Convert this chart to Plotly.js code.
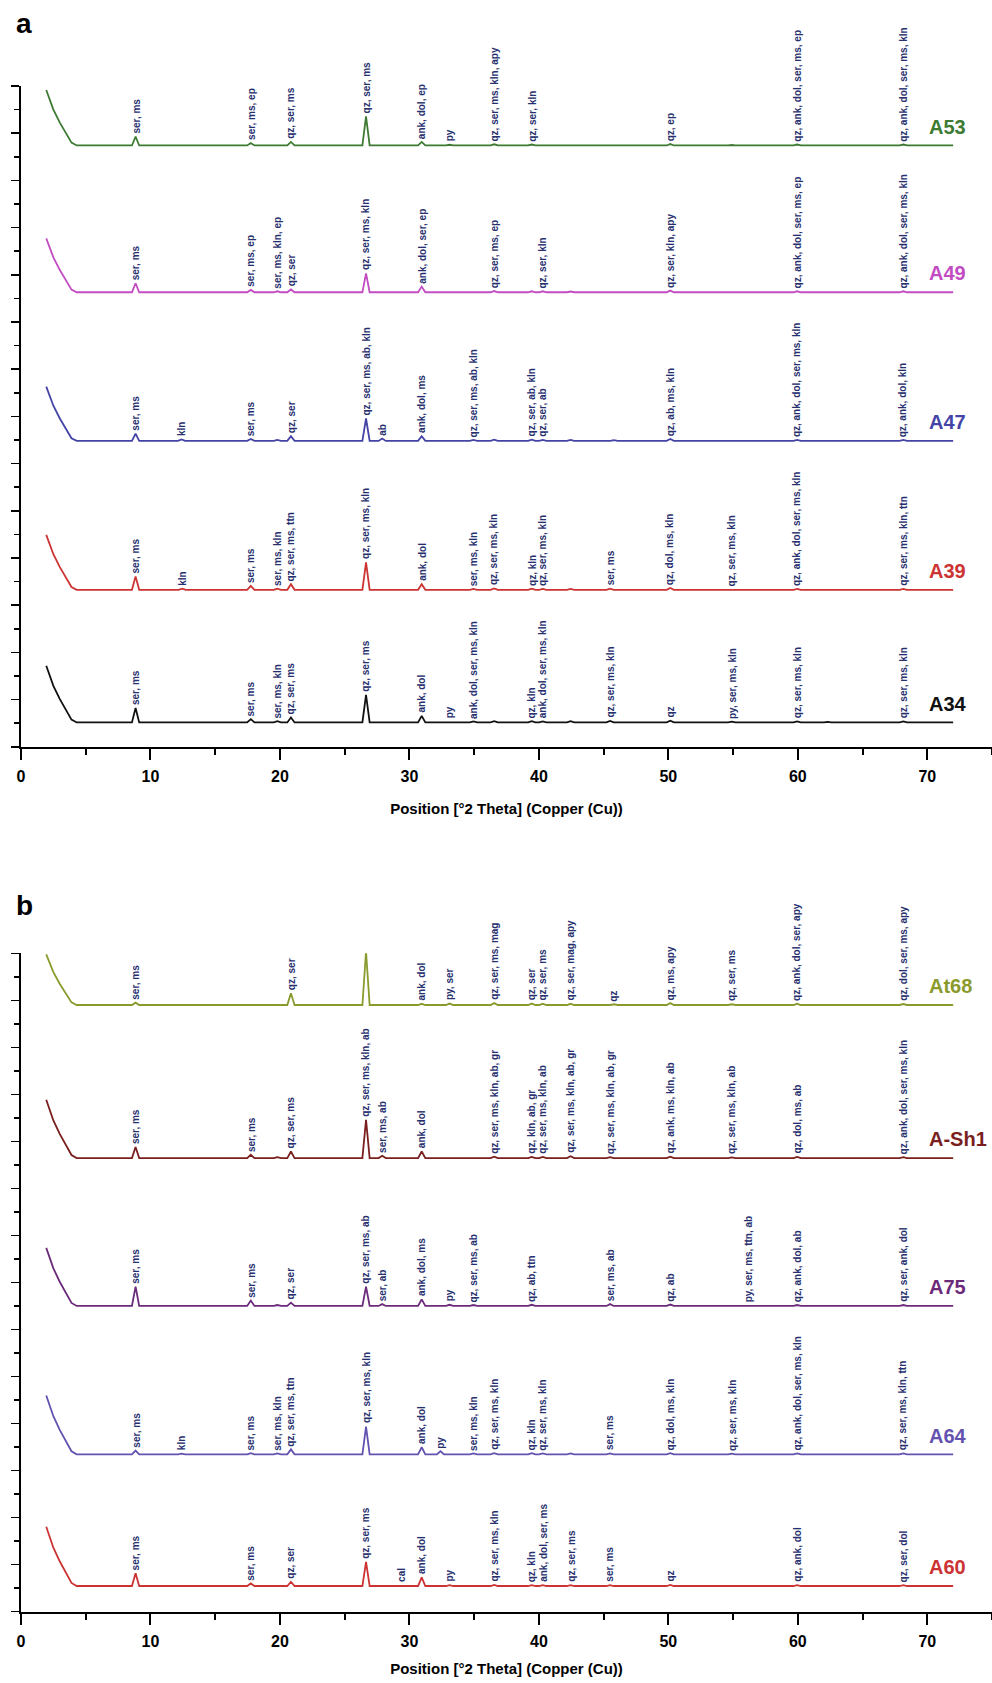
<!DOCTYPE html>
<html>
<head>
<meta charset="utf-8">
<script src="https://cdn.plot.ly/plotly-3.0.1.min.js"></script>
<style>
html,body{margin:0;padding:0;background:#ffffff;}
#chart{width:992px;height:1683px;}
</style>
</head>
<body>
<div id="chart"></div>
<script>
// ---------------- DATA ----------------
// x in degrees 2-theta, intensities in stacked plot units above each sample's baseline
const xTickValues = [0, 10, 20, 30, 40, 50, 60, 70];
const xTitle = "Position [°2 Theta] (Copper (Cu))";
const lowAngleX = [1.95, 2.5, 3.0, 3.5, 3.9, 4.3];
const scanEnd = 72;

// Panel a
const panelA_samples = ["A53", "A49", "A47", "A39", "A34"];
const panelA_offsets = [25.48, 19.26, 12.96, 6.65, 1.03];
// Panel b
const panelB_samples = ["At68", "A-Sh1", "A75", "A64", "A60"];
const panelB_offsets = [25.8, 19.29, 13.0, 6.69, 1.09];

// A53
const A53_lowY = [2.35, 1.52, 0.97, 0.48, 0.12, 0];
const A53_peakX = [8.85, 17.75, 19.8, 20.85, 26.65, 30.95, 33.1, 36.55, 39.45, 40.3, 42.45, 45.8, 50.15, 54.9, 59.95, 68.15];
const A53_peakH = [0.38, 0.10, 0.03, 0.15, 1.23, 0.15, 0.03, 0.05, 0.04, 0.03, 0.03, 0.03, 0.06, 0.02, 0.04, 0.04];
const A53_labelX = [8.85, 17.75, 20.85, 26.65, 30.95, 33.1, 36.55, 39.45, 50.15, 59.95, 68.15];
const A53_labelText = ["ser, ms", "ser, ms, ep", "qz, ser, ms", "qz, ser, ms", "ank, dol, ep", "py", "qz, ser, ms, kln, apy", "qz, ser, kln", "qz, ep", "qz, ank, dol, ser, ms, ep", "qz, ank, dol, ser, ms, kln"];

// A49
const A49_lowY = [2.28, 1.48, 0.94, 0.46, 0.11, 0];
const A49_peakX = [8.85, 17.75, 19.8, 20.85, 26.65, 30.95, 36.55, 39.45, 40.3, 42.45, 45.8, 50.15, 59.95, 68.15];
const A49_peakH = [0.38, 0.10, 0.04, 0.12, 0.80, 0.24, 0.05, 0.04, 0.04, 0.03, 0.03, 0.07, 0.04, 0.04];
const A49_labelX = [8.85, 17.75, 19.8, 20.85, 26.65, 30.95, 36.55, 40.3, 50.15, 59.95, 68.15];
const A49_labelText = ["ser, ms", "ser, ms, ep", "ser, ms, kln, ep", "qz, ser", "qz, ser, ms, kln", "ank, dol, ser, ep", "qz, ser, ms, ep", "qz, ser, kln", "qz, ser, kln, apy", "qz, ank, dol, ser, ms, ep", "qz, ank, dol, ser, ms, kln"];

// A47
const A47_lowY = [2.30, 1.49, 0.95, 0.47, 0.11, 0];
const A47_peakX = [8.85, 12.4, 17.75, 19.8, 20.85, 26.65, 27.9, 30.95, 34.95, 36.55, 39.45, 40.3, 42.45, 45.8, 50.15, 59.95, 68.15];
const A47_peakH = [0.31, 0.06, 0.08, 0.04, 0.20, 0.95, 0.10, 0.20, 0.04, 0.05, 0.05, 0.04, 0.04, 0.03, 0.08, 0.04, 0.04];
const A47_labelX = [8.85, 12.4, 17.75, 20.85, 26.65, 27.9, 30.95, 34.95, 39.45, 40.3, 50.15, 59.95, 68.15];
const A47_labelText = ["ser, ms", "kln", "ser, ms", "qz, ser", "qz, ser, ms, ab, kln", "ab", "ank, dol, ms", "qz, ser, ms, ab, kln", "qz, ser, ab, kln", "qz, ser, ab", "qz, ab, ms, kln", "qz, ank, dol, ser, ms, kln", "qz, ank, dol, kln"];

// A39
const A39_lowY = [2.33, 1.51, 0.96, 0.47, 0.12, 0];
const A39_peakX = [8.85, 12.45, 17.75, 19.8, 20.85, 26.65, 30.95, 34.95, 36.55, 39.45, 40.3, 42.45, 45.5, 50.15, 54.9, 59.95, 68.15];
const A39_peakH = [0.57, 0.05, 0.17, 0.05, 0.24, 1.16, 0.24, 0.04, 0.06, 0.05, 0.04, 0.04, 0.05, 0.08, 0.03, 0.04, 0.04];
const A39_labelX = [8.85, 12.45, 17.75, 19.8, 20.85, 26.65, 30.95, 34.95, 36.55, 39.45, 40.3, 45.5, 50.15, 54.9, 59.95, 68.15];
const A39_labelText = ["ser, ms", "kln", "ser, ms", "ser, ms, kln", "qz, ser, ms, ttn", "qz, ser, ms, kln", "ank, dol", "ser, ms, kln", "qz, ser, ms, kln", "qz, kln", "qz, ser, ms, kln", "ser, ms", "qz, dol, ms, kln", "qz, ser, ms, kln", "qz, ank, dol, ser, ms, kln", "qz, ser, ms, kln, ttn"];

// A34
const A34_lowY = [2.40, 1.55, 0.99, 0.49, 0.12, 0];
const A34_peakX = [8.85, 17.75, 19.8, 20.85, 26.65, 30.95, 33.1, 34.95, 36.55, 39.45, 40.3, 42.45, 45.5, 50.15, 54.9, 59.95, 62.3, 68.15];
const A34_peakH = [0.61, 0.14, 0.05, 0.21, 1.17, 0.28, 0.03, 0.04, 0.05, 0.05, 0.04, 0.05, 0.06, 0.07, 0.03, 0.04, 0.02, 0.04];
const A34_labelX = [8.85, 17.75, 19.8, 20.85, 26.65, 30.95, 33.1, 34.95, 39.45, 40.3, 45.5, 50.15, 54.9, 59.95, 68.15];
const A34_labelText = ["ser, ms", "ser, ms", "ser, ms, kln", "qz, ser, ms", "qz, ser, ms", "ank, dol", "py", "ank, dol, ser, ms, kln", "qz, kln", "ank, dol, ser, ms, kln", "qz, ser, ms, kln", "qz", "py, ser, ms, kln", "qz, ser, ms, kln", "qz, ser, ms, kln"];

// At68
const At68_lowY = [2.15, 1.40, 0.89, 0.44, 0.11, 0];
const At68_peakX = [8.85, 20.85, 26.65, 30.95, 33.1, 36.55, 39.45, 40.3, 42.45, 45.8, 50.15, 54.9, 59.95, 68.15];
const At68_peakH = [0.10, 0.50, 2.27, 0.05, 0.06, 0.08, 0.06, 0.05, 0.05, 0.03, 0.08, 0.03, 0.05, 0.04];
const At68_labelX = [8.85, 20.85, 26.65, 30.95, 33.1, 36.55, 39.45, 40.3, 42.45, 45.8, 50.15, 54.9, 59.95, 68.15];
const At68_labelText = ["ser, ms", "qz, ser", "qz, ser, ms", "ank, dol", "py, ser", "qz, ser, ms, mag", "qz, ser", "qz, ser, ms", "qz, ser, mag, apy", "qz", "qz, ms, apy", "qz, ser, ms", "qz, ank, dol, ser, apy", "qz, dol, ser, ms, apy"];

// A-Sh1
const ASh1_lowY = [2.48, 1.60, 1.02, 0.50, 0.13, 0];
const ASh1_peakX = [8.85, 17.75, 19.8, 20.85, 26.65, 27.9, 30.95, 36.55, 39.45, 40.3, 42.45, 45.5, 50.15, 54.9, 59.95, 68.15];
const ASh1_peakH = [0.47, 0.14, 0.04, 0.28, 1.63, 0.10, 0.28, 0.06, 0.05, 0.05, 0.08, 0.04, 0.06, 0.03, 0.05, 0.04];
const ASh1_labelX = [8.85, 17.75, 20.85, 26.65, 27.9, 30.95, 36.55, 39.45, 40.3, 42.45, 45.5, 50.15, 54.9, 59.95, 68.15];
const ASh1_labelText = ["ser, ms", "ser, ms", "qz, ser, ms", "qz, ser, ms, kln, ab", "ser, ms, ab", "ank, dol", "qz, ser, ms, kln, ab, gr", "qz, kln, ab, gr", "qz, ser, ms, kln, ab", "qz, ser, ms, kln, ab, gr", "qz, ser, ms, kln, ab, gr", "qz, ank, ms, kln, ab", "qz, ser, ms, kln, ab", "qz, dol, ms, ab", "qz, ank, dol, ser, ms, kln"];

// A75
const A75_lowY = [2.47, 1.60, 1.02, 0.50, 0.13, 0];
const A75_peakX = [8.85, 17.75, 19.8, 20.85, 26.65, 27.9, 30.95, 33.1, 34.95, 39.45, 45.5, 50.15, 56.2, 59.95, 68.15];
const A75_peakH = [0.82, 0.23, 0.04, 0.14, 0.82, 0.08, 0.28, 0.05, 0.04, 0.05, 0.08, 0.06, 0.03, 0.04, 0.04];
const A75_labelX = [8.85, 17.75, 20.85, 26.65, 27.9, 30.95, 33.1, 34.95, 39.45, 45.5, 50.15, 56.2, 59.95, 68.15];
const A75_labelText = ["ser, ms", "ser, ms", "qz, ser", "qz, ser, ms, ab", "ser, ab", "ank, dol, ms", "py", "qz, ser, ms, ab", "qz, ab, ttn", "ser, ms, ab", "qz, ab", "py, ser, ms, ttn, ab", "qz, ank, dol, ab", "qz, ser, ank, dol"];

// A64
const A64_lowY = [2.50, 1.62, 1.03, 0.51, 0.13, 0];
const A64_peakX = [8.85, 12.4, 17.75, 19.8, 20.85, 26.65, 30.95, 32.4, 34.95, 36.55, 39.45, 40.3, 42.45, 45.5, 50.15, 54.9, 59.95, 68.15];
const A64_peakH = [0.16, 0.03, 0.05, 0.04, 0.21, 1.18, 0.30, 0.13, 0.04, 0.05, 0.05, 0.04, 0.04, 0.04, 0.05, 0.03, 0.04, 0.04];
const A64_labelX = [8.85, 12.4, 17.75, 19.8, 20.85, 26.65, 30.95, 32.4, 34.95, 36.55, 39.45, 40.3, 45.5, 50.15, 54.9, 59.95, 68.15];
const A64_labelText = ["ser, ms", "kln", "ser, ms", "ser, ms, kln", "qz, ser, ms, ttn", "qz, ser, ms, kln", "ank, dol", "py", "ser, ms, kln", "qz, ser, ms, kln", "qz, kln", "qz, ser, ms, kln", "ser, ms", "qz, dol, ms, kln", "qz, ser, ms, kln", "qz, ank, dol, ser, ms, kln", "qz, ser, ms, kln, ttn"];

// A60
const A60_lowY = [2.52, 1.63, 1.04, 0.51, 0.13, 0];
const A60_peakX = [8.85, 17.75, 20.85, 26.65, 29.4, 30.95, 33.1, 36.55, 39.45, 40.3, 42.45, 45.5, 50.15, 59.95, 68.15];
const A60_peakH = [0.54, 0.11, 0.18, 1.03, 0.03, 0.37, 0.04, 0.05, 0.04, 0.04, 0.04, 0.04, 0.05, 0.04, 0.04];
const A60_labelX = [8.85, 17.75, 20.85, 26.65, 29.4, 30.95, 33.1, 36.55, 39.45, 40.3, 42.45, 45.5, 50.15, 59.95, 68.15];
const A60_labelText = ["ser, ms", "ser, ms", "qz, ser", "qz, ser, ms", "cal", "ank, dol", "py", "qz, ser, ms, kln", "qz, kln", "ank, dol, ser, ms", "qz, ser, ms", "ser, ms", "qz", "qz, ank, dol", "qz, ser, dol"];

// ---------------- STYLE ----------------
const FONT = "Liberation Sans, Arial, Helvetica, sans-serif";
const labelColor = "#27306e";
const styleA = [
  {color: "#3d7a32"}, {color: "#c24cc2"}, {color: "#4444a6"}, {color: "#cc3333"}, {color: "#111111"}
];
const styleB = [
  {color: "#8a9a2c"}, {color: "#7a1e1e"}, {color: "#6b2b7a"}, {color: "#6452b0"}, {color: "#cc3333"}
];
const peakHalfWidth = 0.28;

const panelA_series = [
  [A53_lowY, A53_peakX, A53_peakH, A53_labelX, A53_labelText],
  [A49_lowY, A49_peakX, A49_peakH, A49_labelX, A49_labelText],
  [A47_lowY, A47_peakX, A47_peakH, A47_labelX, A47_labelText],
  [A39_lowY, A39_peakX, A39_peakH, A39_labelX, A39_labelText],
  [A34_lowY, A34_peakX, A34_peakH, A34_labelX, A34_labelText]
];
const panelB_series = [
  [At68_lowY, At68_peakX, At68_peakH, At68_labelX, At68_labelText],
  [ASh1_lowY, ASh1_peakX, ASh1_peakH, ASh1_labelX, ASh1_labelText],
  [A75_lowY, A75_peakX, A75_peakH, A75_labelX, A75_labelText],
  [A64_lowY, A64_peakX, A64_peakH, A64_labelX, A64_labelText],
  [A60_lowY, A60_peakX, A60_peakH, A60_labelX, A60_labelText]
];

const traces = [];
const annotations = [];

function addPanel(names, offsets, series, styles, xref, yref) {
  series.forEach((s, i) => {
    const [lowY, peakX, peakH, labelX, labelText] = s;
    const off = offsets[i];
    const x = [], y = [];
    lowAngleX.forEach((v, k) => { x.push(v); y.push(off + lowY[k]); });
    peakX.forEach((p, k) => {
      x.push(p - peakHalfWidth, p, p + peakHalfWidth);
      y.push(off, off + peakH[k], off);
    });
    x.push(scanEnd); y.push(off);
    traces.push({
      type: "scatter", mode: "lines", x: x, y: y, name: names[i],
      xaxis: xref, yaxis: yref, hoverinfo: "skip",
      line: {color: styles[i].color, width: 1.8}
    });
    labelX.forEach((lx, k) => {
      let h = 0;
      peakX.forEach((p, j) => { if (Math.abs(p - lx) < 0.2) h = peakH[j]; });
      annotations.push({
        x: lx, y: off + h, xref: xref, yref: yref, text: labelText[k],
        textangle: -90, showarrow: false, xanchor: "center", yanchor: "bottom",
        yshift: 2, borderpad: 0,
        font: {family: FONT, size: 10, color: labelColor, weight: "bold"}
      });
    });
    annotations.push({
      x: 70, y: off + 0.8, xref: xref, yref: yref, text: names[i],
      showarrow: false, xanchor: "left", yanchor: "middle",
      font: {family: FONT, size: 20, color: styles[i].color, weight: "bold"}
    });
  });
}

addPanel(panelA_samples, panelA_offsets, panelA_series, styleA, "x", "y");
addPanel(panelB_samples, panelB_offsets, panelB_series, styleB, "x2", "y2");

annotations.push({xref: "paper", yref: "paper", x: -0.007, y: 0.9863, text: "a", showarrow: false,
  xanchor: "left", yanchor: "middle", font: {family: FONT, size: 28, color: "#000", weight: "bold"}});
annotations.push({xref: "paper", yref: "paper", x: -0.007, y: 0.4617, text: "b", showarrow: false,
  xanchor: "left", yanchor: "middle", font: {family: FONT, size: 28, color: "#000", weight: "bold"}});

function xAxis(anchor, standoff) {
  return {
    anchor: anchor, domain: [0, 1], range: [0, 75], showgrid: false, zeroline: false,
    showline: true, linecolor: "#000", linewidth: 2, mirror: false,
    ticks: "outside", ticklen: 11, tickwidth: 2, tickcolor: "#000",
    tickvals: xTickValues, ticktext: xTickValues.map(String), ticklabelstandoff: 3,
    minor: {dtick: 5, tick0: 0, ticks: "outside", ticklen: 6, tickwidth: 2, tickcolor: "#000", showgrid: false},
    tickfont: {family: FONT, size: 16, color: "#000", weight: "bold"},
    title: {text: xTitle, standoff: standoff, font: {family: FONT, size: 15, color: "#000", weight: "bold"}}
  };
}
function yAxis(anchor, domain) {
  return {
    anchor: anchor, domain: domain, range: [0, 28], showgrid: false, zeroline: false,
    showline: true, linecolor: "#000", linewidth: 2,
    ticks: "outside", ticklen: 8, tickwidth: 1.5, tickcolor: "#000", dtick: 2, tick0: 0,
    minor: {dtick: 1, ticks: "outside", ticklen: 5, tickwidth: 1.5, tickcolor: "#000", showgrid: false},
    showticklabels: false, fixedrange: true
  };
}

const layout = {
  width: 992, height: 1683,
  margin: {l: 21, r: 0, t: 0, b: 0},
  paper_bgcolor: "#ffffff", plot_bgcolor: "#ffffff",
  showlegend: false,
  font: {family: FONT, color: "#000"},
  xaxis: xAxis("y", 20),
  yaxis: yAxis("x", [0.5563, 0.9489]),
  xaxis2: xAxis("y2", 15),
  yaxis2: yAxis("x2", [0.0424, 0.4336]),
  annotations: annotations
};

Plotly.newPlot("chart", traces, layout, {displayModeBar: false, staticPlot: true});
</script>
</body>
</html>
